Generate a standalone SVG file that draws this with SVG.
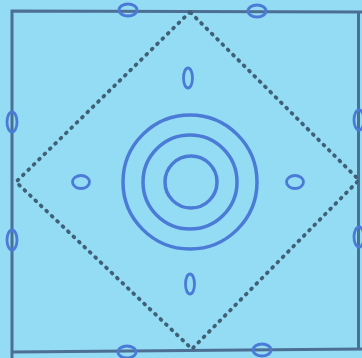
<svg xmlns="http://www.w3.org/2000/svg" width="362" height="358" viewBox="0 0 362 358">
<style>
.bg{fill:#94dbf4}
.frame{fill:none;stroke:#4d6f94;stroke-width:3}
.dot{fill:none;stroke:#3f6178;stroke-width:3.8;stroke-linecap:round;stroke-dasharray:1 6.5}
.ring{fill:none;stroke:#4a7bd6;stroke-width:3.5}
.mark{fill:none;stroke:#4a7bd6;stroke-width:2.8}
</style>
<rect class="bg" x="0" y="0" width="362" height="358"/>
<g id="frame">
<path class="frame" d="M12,358 L12,11 L362,12 M12,352 L362,349"/>
<path class="frame" d="M358.5,12 L358.5,349"/>
</g>
<g id="connectors">
<path class="dot" d="M190,12 L16,182 L192,349 L359,180 Z"/>
</g>
<g id="rings">
<circle class="ring" cx="190" cy="182" r="67" stroke-width="4"/>
<circle class="ring" cx="190" cy="182" r="47"/>
<circle class="ring" cx="191" cy="182" r="26"/>
</g>
<g id="marks">
<ellipse class="mark" cx="188" cy="78" rx="4.5" ry="10"/>
<ellipse class="mark" cx="190" cy="284" rx="4.5" ry="10"/>
<ellipse class="mark" cx="81" cy="182" rx="8.5" ry="6.5"/>
<ellipse class="mark" cx="295" cy="182" rx="8.5" ry="6.5"/>
</g>
<g id="edge-marks">
<ellipse class="mark" cx="128" cy="10" rx="9" ry="6"/>
<ellipse class="mark" cx="257" cy="11" rx="9" ry="6"/>
<ellipse class="mark" cx="127" cy="352" rx="9" ry="6"/>
<ellipse class="mark" cx="262" cy="350" rx="9" ry="6"/>
<ellipse class="mark" cx="12" cy="122" rx="5" ry="10"/>
<ellipse class="mark" cx="12" cy="240" rx="5" ry="10"/>
<ellipse class="mark" cx="359" cy="120" rx="5" ry="10"/>
<ellipse class="mark" cx="359" cy="237" rx="5" ry="10"/>
</g>
</svg>
